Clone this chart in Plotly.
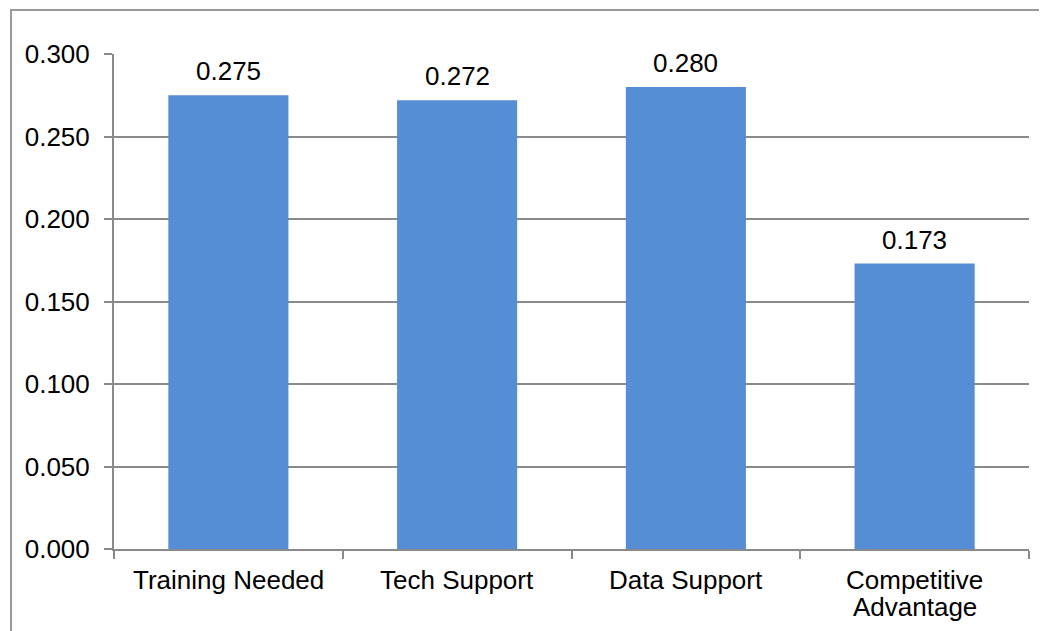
import plotly.graph_objects as go

categories = ["Training Needed", "Tech Support", "Data Support", "Competitive<br>Advantage"]
values = [0.275, 0.272, 0.280, 0.173]
y_ticks = [0.0, 0.05, 0.10, 0.15, 0.20, 0.25, 0.30]
y_ticktext = ["0.000", "0.050", "0.100", "0.150", "0.200", "0.250", "0.300"]

BAR = "#558ED5"
GRID = "#8a8a8a"
FONT = "Liberation Sans, Arial, sans-serif"

# page body has a default 8px margin; figure is sized to fit the window
W, H = 1039, 623
L, T, R, B = 106, 46, 18, 82
PW, PH = W - L - R, H - T - B

fig = go.Figure()
fig.add_trace(go.Bar(
    x=categories, y=values, marker=dict(color=BAR, line=dict(width=0)),
    width=0.525, hoverinfo="skip",
))

for c, v in zip(categories, values):
    fig.add_annotation(x=c, y=v, text=f"{v:.3f}", showarrow=False,
                       yanchor="middle", yshift=24,
                       font=dict(family=FONT, size=26, color="#000000"))

# category labels, one line per annotation for the tight line spacing of the original
for c in categories:
    for i, line in enumerate(c.split("<br>")):
        fig.add_annotation(x=c, y=0, text=line, showarrow=False,
                           yanchor="middle", yshift=-31 - 27 * i,
                           font=dict(family=FONT, size=26, color="#000000"))

fig.update_layout(
    width=W, height=H,
    margin=dict(l=L, r=R, t=T, b=B, autoexpand=False),
    paper_bgcolor="white", plot_bgcolor="white",
    showlegend=False,
    font=dict(family=FONT, size=26, color="#000000"),
    xaxis=dict(
        type="category", tickson="boundaries", ticks="outside", ticklen=8,
        tickwidth=2, tickcolor=GRID, showline=True, linecolor=GRID, linewidth=2,
        showgrid=False, showticklabels=False, automargin=False,
    ),
    yaxis=dict(
        range=[0, 0.3], tickvals=y_ticks, ticktext=y_ticktext,
        ticks="outside", ticklen=8, tickwidth=2, tickcolor=GRID,
        showline=True, linecolor=GRID, linewidth=2,
        showgrid=True, gridcolor=GRID, gridwidth=2, zeroline=False,
        ticklabelstandoff=9, automargin=False,
        tickfont=dict(family=FONT, size=26, color="#000000"),
    ),
    shapes=[dict(type="rect", xref="paper", yref="paper",
                 x0=(3 - L) / PW, x1=1.2, y0=-0.4, y1=(H - B - 2) / PH,
                 line=dict(color="#999999", width=2), fillcolor="rgba(0,0,0,0)",
                 layer="below")],
)

fig.write_html("out.html")
